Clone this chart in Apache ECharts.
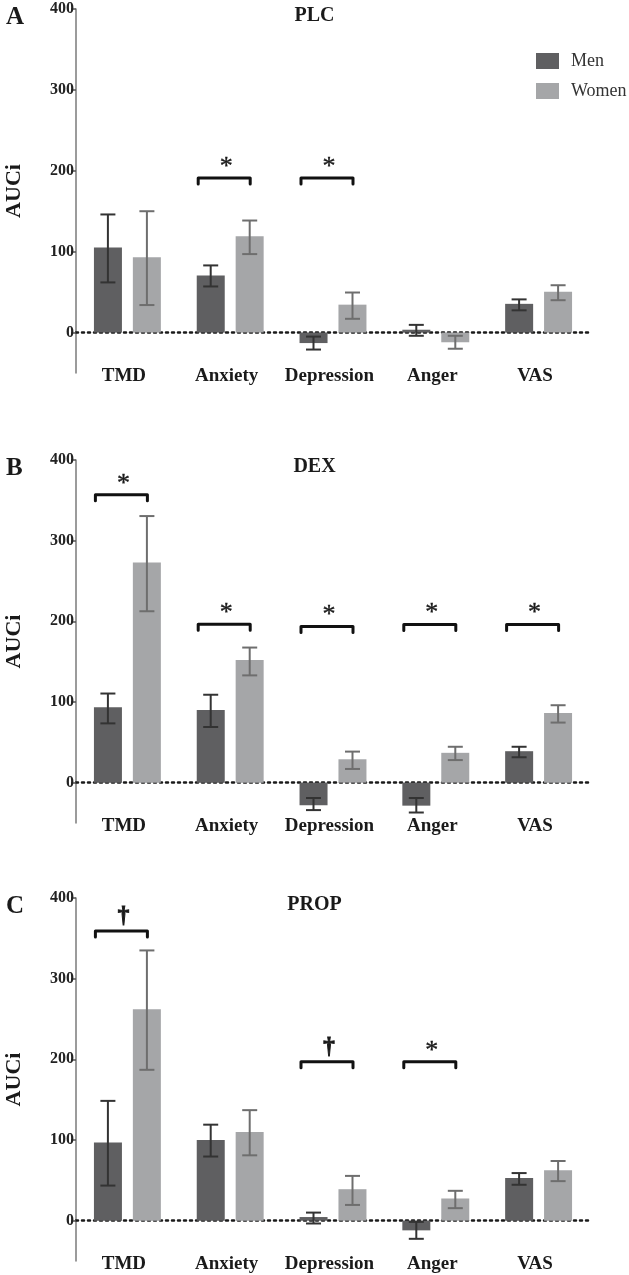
<!DOCTYPE html>
<html>
<head>
<meta charset="utf-8">
<script src="https://cdn.jsdelivr.net/npm/echarts@6/dist/echarts.min.js"></script>
<style>
html,body{margin:0;padding:0;background:#fff;}
#chart{width:629px;height:1275px;}
</style>
</head>
<body>
<div id="chart"></div>
<script>
const categories = ['TMD', 'Anxiety', 'Depression', 'Anger', 'VAS'];
const seriesNames = ['Men', 'Women'];
const yTickValues = [0, 100, 200, 300, 400];
const panelTitles = ['PLC', 'DEX', 'PROP'];
const panelLetters = ['A', 'B', 'C'];

// Panel A – PLC
const plcMen = [105, 70.5, -13, 3.5, 35.5];
const plcMenLow = [62, 57, -21, -4, 27.5];
const plcMenHigh = [146, 83, -5, 9.5, 41];
const plcWomen = [93, 119, 34.5, -12, 50.5];
const plcWomenLow = [34, 97, 17, -20, 40];
const plcWomenHigh = [150, 138.5, 49.5, -4, 58.5];
const plcSig = [[1, 191, '*'], [2, 191, '*']];

// Panel B – DEX
const dexMen = [93.5, 90, -28, -28.5, 39];
const dexMenLow = [73.5, 69, -34, -37, 31.5];
const dexMenHigh = [110.5, 109, -19, -19, 44.5];
const dexWomen = [273, 152, 29, 37, 86.5];
const dexWomenLow = [212.5, 133, 17, 28, 74.5];
const dexWomenHigh = [330.5, 167.5, 38.5, 44.5, 96];
const dexSig = [[0, 357, '*'], [1, 196.5, '*'], [2, 193.5, '*'], [3, 196, '*'], [4, 196, '*']];

// Panel C – PROP
const propMen = [97, 100, 4.5, -12, 53];
const propMenLow = [43.5, 79.5, -3.5, -22.5, 44.5];
const propMenHigh = [148.5, 119, 10, -1.5, 59];
const propWomen = [262, 110, 39, 27.5, 62.5];
const propWomenLow = [187, 81, 19.5, 15.5, 49];
const propWomenHigh = [335, 137, 55.5, 37, 74];
const propSig = [[0, 359, '\u2020'], [2, 197, '\u2020'], [3, 197, '*']];

const panels = [
  {men: plcMen, menLow: plcMenLow, menHigh: plcMenHigh, women: plcWomen, womenLow: plcWomenLow, womenHigh: plcWomenHigh, sig: plcSig},
  {men: dexMen, menLow: dexMenLow, menHigh: dexMenHigh, women: dexWomen, womenLow: dexWomenLow, womenHigh: dexWomenHigh, sig: dexSig},
  {men: propMen, menLow: propMenLow, menHigh: propMenHigh, women: propWomen, womenLow: propWomenLow, womenHigh: propWomenHigh, sig: propSig}
];

const SERIF = '"Liberation Serif", "Times New Roman", serif';
const MEN_COLOR = '#5f5f61';
const WOMEN_COLOR = '#a5a6a8';
const MEN_ERR = '#333333';
const WOMEN_ERR = '#6e6e6e';
const BAR_W = 28;
const HALF_OFF = 19.5;

const gridTops = [9, 460, 898];
const gridHeights = [364, 363, 363];

const chart = echarts.init(document.getElementById('chart'), null, {renderer: 'canvas'});

const grid = [], xAxis = [], yAxis = [], series = [], title = [];

panels.forEach((p, i) => {
  grid.push({left: 76, right: 39, top: gridTops[i], height: gridHeights[i], containLabel: false, outerBoundsMode: 'none'});
  title.push({
    text: panelTitles[i], left: 'center', top: gridTops[i] - 8,
    textStyle: {fontFamily: SERIF, fontWeight: 'bold', fontSize: 20, color: '#1a1a1a'}
  });
  title.push({
    text: panelLetters[i], left: 1, top: gridTops[i] - 9,
    textStyle: {fontFamily: SERIF, fontWeight: 'bold', fontSize: 25, color: '#1a1a1a'}
  });
  // label axis
  xAxis.push({
    gridIndex: i, type: 'category', data: categories, position: 'bottom',
    axisLine: {show: false, onZero: false}, axisTick: {show: false},
    axisLabel: {interval: 0, hideOverlap: false, fontFamily: SERIF, fontWeight: 'bold', fontSize: 19, color: '#1a1a1a',
      margin: 3, verticalAlign: 'middle', padding: [0, 7, 0, 0]},
    splitLine: {show: false}
  });
  // zero dotted line axis
  xAxis.push({
    gridIndex: i, type: 'category', data: categories, position: 'bottom',
    axisLine: {show: true, onZero: true, lineStyle: {color: '#1a1a1a', width: 2.5, type: [2, 4]}},
    axisTick: {show: false}, axisLabel: {show: false}, splitLine: {show: false}
  });
  yAxis.push({
    gridIndex: i, type: 'value', min: -50, max: 400,
    name: 'AUCi', nameLocation: 'middle', nameGap: 51, nameRotate: 90,
    nameTextStyle: {fontFamily: SERIF, fontWeight: 'bold', fontSize: 22, color: '#1a1a1a'},
    axisLine: {show: true, onZero: false, lineStyle: {color: '#7a7a7a', width: 1.5}},
    axisTick: {show: true, length: 5, customValues: yTickValues, lineStyle: {color: '#555', width: 1.5}},
    axisLabel: {customValues: yTickValues, fontFamily: SERIF, fontWeight: 'bold', fontSize: 16, color: '#222', margin: 2},
    splitLine: {show: false}
  });
  const xi = i * 2;
  series.push({
    name: seriesNames[0], type: 'bar', xAxisIndex: xi, yAxisIndex: i, data: p.men,
    barWidth: BAR_W, barGap: '39%', itemStyle: {color: MEN_COLOR}, z: 3
  });
  series.push({
    name: seriesNames[1], type: 'bar', xAxisIndex: xi, yAxisIndex: i, data: p.women,
    barWidth: BAR_W, barGap: '39%', itemStyle: {color: WOMEN_COLOR}, z: 3
  });
  // error bars
  const errData = [];
  categories.forEach((c, k) => {
    errData.push([k, p.menLow[k], p.menHigh[k], 0]);
    errData.push([k, p.womenLow[k], p.womenHigh[k], 1]);
  });
  series.push({
    type: 'custom', xAxisIndex: xi, yAxisIndex: i, data: errData, z: 5, silent: true,
    encode: {x: 0, y: [1, 2]},
    renderItem: function (params, api) {
      const g = api.value(3);
      const base = api.coord([api.value(0), api.value(1)]);
      const top = api.coord([api.value(0), api.value(2)]);
      const x = base[0] + (g === 0 ? -HALF_OFF : HALF_OFF);
      const col = g === 0 ? MEN_ERR : WOMEN_ERR;
      const st = {stroke: col, lineWidth: 2};
      return {type: 'group', children: [
        {type: 'line', shape: {x1: x, y1: base[1], x2: x, y2: top[1]}, style: st},
        {type: 'line', shape: {x1: x - 7.5, y1: base[1], x2: x + 7.5, y2: base[1]}, style: st},
        {type: 'line', shape: {x1: x - 7.5, y1: top[1], x2: x + 7.5, y2: top[1]}, style: st}
      ]};
    }
  });
  // significance brackets
  series.push({
    type: 'custom', xAxisIndex: xi, yAxisIndex: i, data: p.sig, z: 6, silent: true,
    encode: {x: 0, y: 1},
    renderItem: function (params, api) {
      const pt = api.coord([api.value(0), api.value(1)]);
      const mark = p.sig[params.dataIndex][2];
      const xl = pt[0] - 32, xr = pt[0] + 20, y = pt[1];
      const isDagger = mark !== '*';
      return {type: 'group', children: [
        {type: 'polyline', shape: {points: [[xl, y + 6], [xl, y], [xr, y], [xr, y + 6]]},
          style: {stroke: '#111', lineWidth: 3, fill: null, lineJoin: 'round', lineCap: 'round'}},
        {type: 'text', style: {
          text: mark, x: pt[0] - 4, y: y - (isDagger ? 15 : 11),
          align: 'center', verticalAlign: 'middle',
          font: isDagger ? ('bold 23px ' + SERIF) : ('26px ' + SERIF), fill: '#1a1a1a',
          stroke: '#1a1a1a', lineWidth: isDagger ? 1 : 0.4
        }}
      ]};
    }
  });
});

const option = {
  animation: false,
  backgroundColor: '#ffffff',
  title: title,
  legend: {
    data: seriesNames, orient: 'vertical', left: 536, top: 52, padding: 0,
    itemWidth: 23, itemHeight: 16, itemGap: 12, icon: 'rect',
    textStyle: {fontFamily: SERIF, fontSize: 18, color: '#333', padding: [0, 0, 0, 7]}
  },
  grid: grid,
  xAxis: xAxis,
  yAxis: yAxis,
  series: series
};
chart.setOption(option);
</script>
</body>
</html>
